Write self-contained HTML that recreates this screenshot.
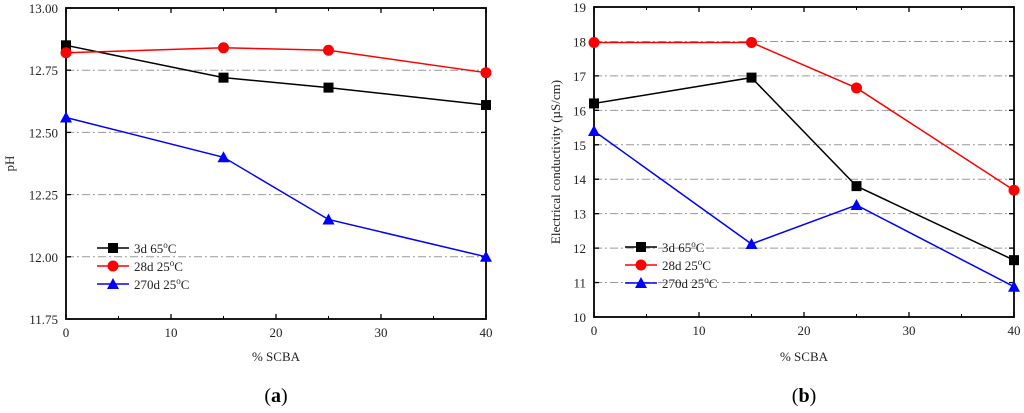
<!DOCTYPE html>
<html><head><meta charset="utf-8"><style>
body{margin:0;background:#fff;}
svg{display:block;font-family:"Liberation Serif",serif;}
</style></head><body>
<svg id="chart" width="1024" height="413" viewBox="0 0 1024 413"></svg>
<script>
const xCats = [0, 15, 25, 40];
const xTicks = [0, 10, 20, 30, 40];
const seriesNames = ["3d 65\u00B0C", "28d 25\u00B0C", "270d 25\u00B0C"];
const phTicks = [11.75, 12.00, 12.25, 12.50, 12.75, 13.00];
const ph3d = [12.85, 12.72, 12.68, 12.61];
const ph28d = [12.82, 12.84, 12.83, 12.74];
const ph270d = [12.56, 12.40, 12.15, 12.00];
const ecTicks = [10, 11, 12, 13, 14, 15, 16, 17, 18, 19];
const ec3d = [16.2, 16.95, 13.8, 11.65];
const ec28d = [17.97, 17.97, 16.65, 13.68];
const ec270d = [15.4, 12.12, 13.25, 10.88];

const NS = "http://www.w3.org/2000/svg";
const svg = document.getElementById('chart');
function mk(tag, attrs, parent, text) {
  const e = document.createElementNS(NS, tag);
  for (const k in attrs) e.setAttribute(k, attrs[k]);
  if (text !== undefined) e.textContent = text;
  (parent || svg).appendChild(e);
  return e;
}
const colors = ["#000", "#ff0000", "#0000ff"];
const shapes = ["square", "circle", "tri"];
function marker(g, shape, x, y, c) {
  let m;
  if (shape === "square") m = mk('rect', {x: x-5, y: y-5, width: 10, height: 10, fill: c}, g);
  else if (shape === "circle") m = mk('circle', {cx: x, cy: y, r: 5.5, fill: c}, g);
  else m = mk('polygon', {points: `${x},${y-6} ${x+6},${y+5} ${x-6},${y+5}`, fill: c}, g);
  
  
}
function drawChart(o) {
  const g = mk('g', {}, svg);
  
  
  const ymin = o.yTicks[0], ymax = o.yTicks[o.yTicks.length - 1];
  const sx = v => o.x0 + (v - 0) / 40 * (o.x1 - o.x0);
  const sy = v => o.yb - (v - ymin) / (ymax - ymin) * (o.yb - o.yt);
  // grid
  o.yTicks.forEach((t, i) => {
    if (i === 0 || i === o.yTicks.length - 1) return;
    const l = mk('line', {x1: o.x0, x2: o.x1, y1: sy(t), y2: sy(t), stroke: '#999', 'stroke-width': 1, 'stroke-dasharray': '8,3,2,3'}, g);
    
    
  });
  // ticks
  xTicks.forEach(t => {
    mk('line', {x1: sx(t), x2: sx(t), y1: o.yb, y2: o.yb - 5, stroke: '#000', 'stroke-width': 1.3}, g);
    mk('line', {x1: sx(t), x2: sx(t), y1: o.yt, y2: o.yt + 5, stroke: '#000', 'stroke-width': 1.3}, g);
    if (t < 40) {
      mk('line', {x1: sx(t + 5), x2: sx(t + 5), y1: o.yb, y2: o.yb - 3, stroke: '#000', 'stroke-width': 1}, g);
      mk('line', {x1: sx(t + 5), x2: sx(t + 5), y1: o.yt, y2: o.yt + 3, stroke: '#000', 'stroke-width': 1}, g);
    }
    const tl = mk('text', {x: sx(t), y: o.yb + 18, 'font-size': 13, 'text-anchor': 'middle', fill: '#222'}, g, String(t));
    
    
  });
  o.yTicks.forEach(t => {
    mk('line', {x1: o.x0, x2: o.x0 + 5, y1: sy(t), y2: sy(t), stroke: '#000', 'stroke-width': 1.3}, g);
    mk('line', {x1: o.x1, x2: o.x1 - 5, y1: sy(t), y2: sy(t), stroke: '#000', 'stroke-width': 1.3}, g);
    const tl = mk('text', {x: o.x0 - 8, y: sy(t) + 5, 'font-size': 13, 'text-anchor': 'end', fill: '#222'}, g, t.toFixed(o.dec));
    
    
  });
  const fr = mk('rect', {x: o.x0, y: o.yt, width: o.x1 - o.x0, height: o.yb - o.yt, fill: 'none', stroke: '#000', 'stroke-width': 1.8}, g);
  
  
  // series
  o.series.forEach((vals, si) => {
    const pts = vals.map((v, i) => `${sx(xCats[i])},${sy(v)}`).join(' ');
    const pl = mk('polyline', {points: pts, fill: 'none', stroke: colors[si], 'stroke-width': 1.5}, g);
    
    
    vals.forEach((v, i) => marker(g, shapes[si], sx(xCats[i]), sy(v), colors[si]));
  });
  // legend
  seriesNames.forEach((n, i) => {
    const y = o.legY + i * 18;
    const lg = mk('g', {}, g);
    
    
    mk('line', {x1: o.legX, x2: o.legX + 32, y1: y, y2: y, stroke: colors[i], 'stroke-width': 1.5}, lg);
    marker(lg, shapes[i], o.legX + 16, y, colors[i]);
    const tx = mk('text', {x: o.legX + 37, y: y + 5, 'font-size': 13, fill: '#222'}, lg);
    const parts = n.split('\u00B0');
    tx.appendChild(document.createTextNode(parts[0]));
    const s = mk('tspan', {'font-size': 9, dy: -5}, tx, 'o');
    mk('tspan', {dy: 5}, tx, 'C');
  });
  const xt = mk('text', {x: (o.x0 + o.x1) / 2, y: 361, 'font-size': 13, 'text-anchor': 'middle', fill: '#222'}, g, '% SCBA');
  
  
  const yt = mk('text', {x: o.ytX, y: (o.yt + o.yb) / 2, 'font-size': 13, 'text-anchor': 'middle', fill: '#222', transform: `rotate(-90 ${o.ytX} ${(o.yt + o.yb) / 2})`}, g, o.yTitle);
  
  
  const pl = mk('text', {x: (o.x0 + o.x1) / 2, y: 402, 'font-size': 20, 'text-anchor': 'middle', fill: '#000'}, g);
  
  
  pl.appendChild(document.createTextNode('('));
  mk('tspan', {'font-weight': 'bold'}, pl, o.label);
  pl.appendChild(document.createTextNode(')'));
}
drawChart({name: 'ph-chart', x0: 66, x1: 486, yt: 8, yb: 319, yTicks: phTicks, dec: 2, series: [ph3d, ph28d, ph270d], legX: 97, legY: 248, yTitle: 'pH', ytX: 14, label: 'a'});
drawChart({name: 'conductivity-chart', x0: 594, x1: 1014, yt: 7, yb: 317, yTicks: ecTicks, dec: 0, series: [ec3d, ec28d, ec270d], legX: 625, legY: 247, yTitle: 'Electrical conductivity (\u00B5S/cm)', ytX: 560, label: 'b'});
</script>
</body></html>
